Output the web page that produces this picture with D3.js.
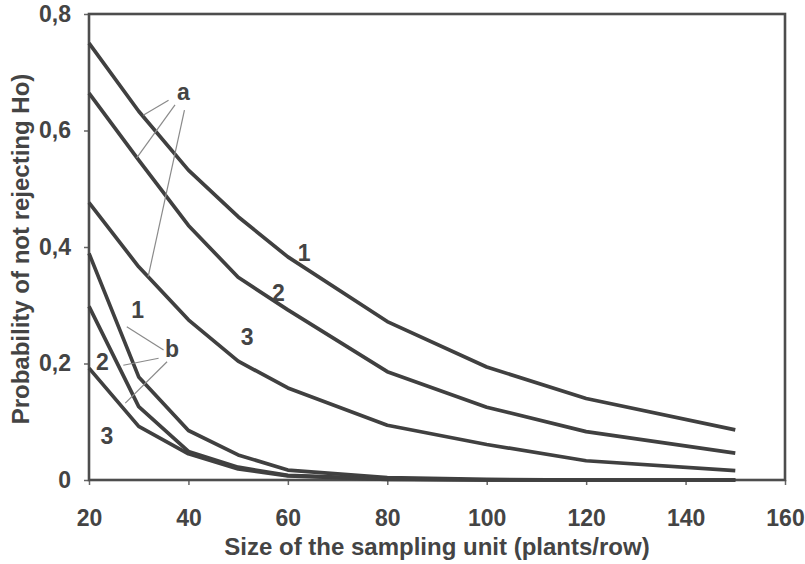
<!DOCTYPE html>
<html>
<head>
  <meta charset="utf-8">
  <title>Probability of not rejecting Ho</title>
  <script src="https://d3js.org/d3.v7.min.js"></script>
  <style>
    body { margin: 0; background: #fff; }
    text { font-family: "Liberation Sans", Arial, sans-serif; font-weight: bold; fill: #444; }
    .curve { fill: none; stroke: #404040; stroke-width: 3.7px; stroke-linejoin: round; }
    .leader { stroke: #8a8a8a; stroke-width: 1.2px; }
    .tick line { stroke: #666; stroke-width: 1.5px; }
  </style>
</head>
<body>
<script>
  // data
  var sizes = [20, 30, 40, 50, 60, 80, 100, 120, 150];
  var a1 = [0.750, 0.633, 0.532, 0.452, 0.383, 0.272, 0.194, 0.140, 0.086];
  var a2 = [0.664, 0.549, 0.437, 0.348, 0.292, 0.186, 0.125, 0.083, 0.046];
  var a3 = [0.476, 0.366, 0.275, 0.204, 0.158, 0.094, 0.061, 0.033, 0.016];
  var b1 = [0.389, 0.177, 0.085, 0.043, 0.017, 0.004, 0.001, 0, 0];
  var b2 = [0.298, 0.126, 0.049, 0.022, 0.008, 0.002, 0, 0, 0];
  var b3 = [0.192, 0.092, 0.045, 0.019, 0.007, 0.001, 0, 0, 0];
  var xTicks = [20, 40, 60, 80, 100, 120, 140, 160];
  var yTicks = [0, 0.2, 0.4, 0.6, 0.8];
  var yTickLabels = ["0", "0,2", "0,4", "0,6", "0,8"];

  // curve labels and leader lines, in data units
  var labels = [
    {t: "a", x: 39.0, y: 0.667},
    {t: "1", x: 63.3, y: 0.390},
    {t: "2", x: 58.1, y: 0.321},
    {t: "3", x: 51.8, y: 0.246},
    {t: "1", x: 29.8, y: 0.292},
    {t: "b", x: 36.7, y: 0.226},
    {t: "2", x: 22.7, y: 0.203},
    {t: "3", x: 23.6, y: 0.076}
  ];
  var leaders = [
    [36.0, 0.652, 30.9, 0.626],
    [37.3, 0.644, 29.6, 0.553],
    [39.2, 0.635, 31.9, 0.349],
    [35.0, 0.223, 27.6, 0.263],
    [34.0, 0.209, 26.9, 0.197],
    [35.7, 0.203, 27.3, 0.132]
  ];

  var W = 805, H = 564;
  var margin = {top: 14, right: 20, bottom: 84, left: 89};
  var width = W - margin.left - margin.right;
  var height = H - margin.top - margin.bottom;

  var svg = d3.select("body").append("svg")
    .attr("width", W)
    .attr("height", H);

  var g = svg.append("g")
    .attr("transform", "translate(" + margin.left + "," + margin.top + ")");

  var x = d3.scaleLinear().domain([20, 160]).range([0, width]);
  var y = d3.scaleLinear().domain([0, 0.8]).range([height, 0]);

  // axes
  g.append("g")
    .attr("transform", "translate(0," + height + ")")
    .call(d3.axisBottom(x).tickValues(xTicks).tickSize(5).tickPadding(25).tickFormat(d3.format("d")));
  g.append("g")
    .call(d3.axisLeft(y).tickValues(yTicks).tickSize(5).tickPadding(13)
      .tickFormat(function(d, i) { return yTickLabels[i]; }));
  g.selectAll(".domain").remove();
  g.selectAll(".tick text").style("font-size", "23px").attr("fill", "#444");

  // frame
  g.append("rect")
    .attr("x", 0).attr("y", 0)
    .attr("width", width).attr("height", height)
    .attr("fill", "none")
    .attr("stroke", "#4d4d4d")
    .attr("stroke-width", 2.6);

  var line = d3.line()
    .x(function(d, i) { return x(sizes[i]); })
    .y(function(d) { return y(d); });

  [a1, a2, a3, b1, b2, b3].forEach(function(s) {
    g.append("path")
      .datum(s)
      .attr("class", "curve")
      .attr("d", line);
  });

  g.selectAll(".leader")
    .data(leaders)
    .enter().append("line")
    .attr("class", "leader")
    .attr("x1", function(d) { return x(d[0]); })
    .attr("y1", function(d) { return y(d[1]); })
    .attr("x2", function(d) { return x(d[2]); })
    .attr("y2", function(d) { return y(d[3]); });

  g.selectAll(".lbl")
    .data(labels)
    .enter().append("text")
    .attr("class", "lbl")
    .attr("x", function(d) { return x(d.x); })
    .attr("y", function(d) { return y(d.y); })
    .attr("dy", "0.36em")
    .attr("text-anchor", "middle")
    .style("font-size", "23px")
    .text(function(d) { return d.t; });

  // axis titles
  svg.append("text")
    .attr("x", 437)
    .attr("y", 555)
    .attr("text-anchor", "middle")
    .style("font-size", "24px")
    .text("Size of the sampling unit (plants/row)");

  svg.append("text")
    .attr("transform", "translate(29,249) rotate(-90)")
    .attr("text-anchor", "middle")
    .style("font-size", "24px")
    .text("Probability of not rejecting Ho)");
</script>
</body>
</html>
